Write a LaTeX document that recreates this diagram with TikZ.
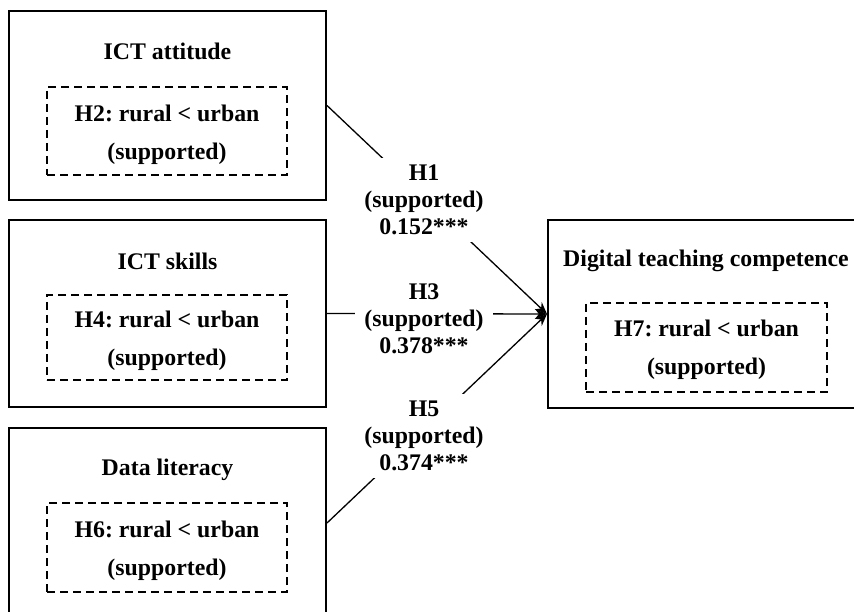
\documentclass[tikz,border=0pt]{standalone}
\usepackage{fontspec}
\setmainfont{Liberation Serif}
\usetikzlibrary{arrows.meta}
\frenchspacing
\begin{document}
\begin{tikzpicture}[x=1pt,y=-1pt,
  outerbox/.style={draw, line width=2pt, minimum width=317pt, inner sep=0pt},
  innerbox/.style={draw, line width=1.8pt, dash pattern=on 8pt off 5pt,
    minimum width=240pt, inner sep=0pt},
  innertext/.style={inner sep=0pt, align=center,
    font=\fontsize{23.8}{38}\bfseries\selectfont},
  titletext/.style={anchor=base, inner sep=0pt, font=\fontsize{23.8}{28}\bfseries\selectfont},
  pathlabel/.style={fill=white, inner xsep=9pt, inner ysep=7pt, align=center,
    font=\fontsize{23.8}{27}\bfseries\selectfont},
  conn/.style={line width=1.3pt, -{Stealth[length=12pt,width=10pt]}}]
\useasboundingbox (0,0) rectangle (854,612);
\clip (0,0) rectangle (854,612);
% outer boxes
\node[outerbox, minimum height=189pt] (att) at (167.5,105.5) {};
\node[outerbox, minimum height=187pt] (skl) at (167.5,313.5) {};
\node[outerbox, minimum height=190pt] (dat) at (167.5,523) {};
\node[outerbox, minimum width=316pt, minimum height=188pt] (dtc) at (706,314) {};
% titles
\node[titletext] (tatt) at (167.5,60) {ICT attitude};
\node[titletext] (tskl) at (167.5,270) {ICT skills};
\node[titletext] (tdat) at (167.5,475) {Data literacy};
\node[titletext] (tdtc) at (706,267) {Digital teaching competence};
% inner dashed boxes
\node[innerbox, minimum height=88pt] (h2) at (167,131) {};
\node[innerbox, minimum height=85pt] (h4) at (167,337.5) {};
\node[innerbox, minimum height=89pt] (h6) at (167,547.5) {};
\node[innerbox, minimum width=241pt, minimum height=89pt] (h7) at (706.5,347.5) {};
\node[innertext] (h2t) at (167,135) {H2: rural < urban\\(supported)};
\node[innertext] (h4t) at (167,341) {H4: rural < urban\\(supported)};
\node[innertext] (h6t) at (167,551) {H6: rural < urban\\(supported)};
\node[innertext] (h7t) at (706.5,350) {H7: rural < urban\\(supported)};
% connectors
\draw[conn] (att.east) -- (dtc.west);
\draw[conn] (skl.east) -- (dtc.west);
\draw[conn] (dat.east) -- (dtc.west);
% path labels
\node[pathlabel] (l1) at (424,200) {H1\\(supported)\\0.152***};
\node[pathlabel] (l3) at (424,319) {H3\\(supported)\\0.378***};
\node[pathlabel] (l5) at (424,436) {H5\\(supported)\\0.374***};
\end{tikzpicture}
\end{document}
